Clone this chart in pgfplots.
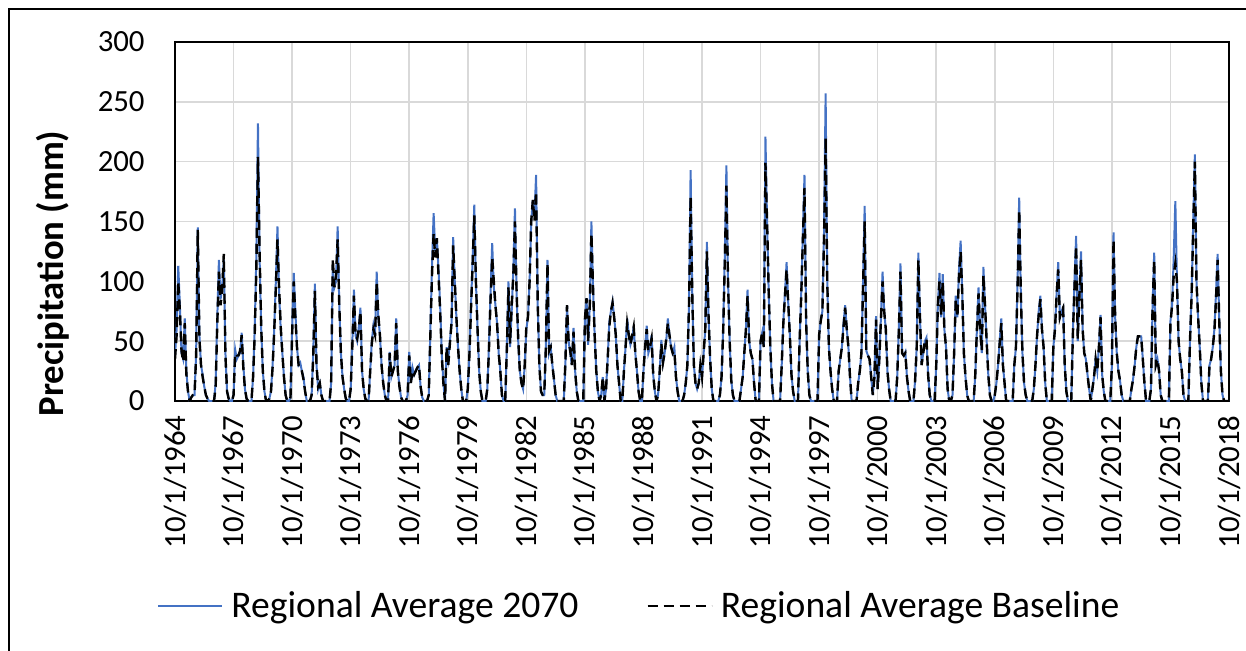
\documentclass[border=0pt]{standalone}
\usepackage{fontspec}
\setmainfont{Carlito}
\usepackage{pgfplots}
\usepackage{pgfplotstable}
\pgfplotsset{compat=1.18}
\definecolor{blueA}{RGB}{68,114,196}
\definecolor{gridgray}{RGB}{217,217,217}
% monthly values, water years Oct 1964 ... Sep 2018; a = 2070, b = baseline
\pgfplotstableread[row sep=\\]{
a b\\
38 35\\60 55\\113 100\\80 75\\40 42\\35 33\\69 65\\25 22\\8 8\\0 0\\3 3\\5 5\\
5 5\\40 38\\145 143\\55 52\\30 30\\22 20\\12 12\\5 5\\2 2\\0 0\\0 0\\0 0\\
0 0\\15 12\\70 65\\118 108\\85 80\\95 92\\118 123\\40 38\\8 8\\2 2\\0 0\\0 0\\
5 5\\43 40\\35 38\\38 38\\40 42\\57 55\\30 28\\10 10\\2 2\\0 0\\0 0\\0 0\\
20 20\\60 55\\120 110\\232 204\\120 125\\60 62\\25 25\\8 8\\0 0\\0 0\\2 2\\8 8\\
30 28\\60 58\\100 95\\146 135\\90 95\\60 62\\40 40\\20 20\\5 5\\0 0\\0 0\\3 3\\
60 55\\107 100\\75 70\\45 45\\30 30\\32 30\\25 25\\20 18\\8 8\\0 0\\0 0\\0 0\\
5 5\\40 38\\98 92\\30 30\\10 12\\15 15\\5 5\\0 0\\0 0\\0 0\\0 0\\0 0\\
15 15\\110 119\\95 95\\100 105\\146 135\\80 80\\40 40\\20 20\\10 10\\2 2\\0 0\\0 0\\
10 10\\48 45\\93 88\\55 55\\50 52\\62 60\\78 75\\25 25\\10 10\\2 2\\0 0\\0 0\\
25 25\\50 48\\63 60\\55 55\\108 100\\70 72\\55 55\\30 30\\15 15\\5 5\\0 0\\0 0\\
41 40\\20 20\\25 25\\30 30\\69 65\\25 25\\12 12\\3 3\\0 0\\0 0\\0 0\\5 5\\
41 38\\15 15\\28 25\\22 22\\25 25\\28 28\\30 30\\12 12\\3 3\\0 0\\0 0\\0 0\\
5 5\\60 55\\112 105\\157 140\\125 120\\136 136\\110 105\\80 75\\40 38\\15 15\\0 0\\45 45\\
35 30\\50 48\\65 65\\137 130\\100 100\\70 70\\45 45\\25 25\\10 10\\0 0\\0 0\\0 0\\
10 10\\40 38\\80 78\\120 115\\164 155\\100 100\\60 60\\25 25\\8 8\\0 0\\0 0\\0 0\\
10 10\\45 42\\90 85\\132 120\\95 100\\80 80\\65 65\\40 40\\25 25\\5 5\\0 0\\0 0\\
45 42\\100 95\\45 48\\75 80\\110 105\\161 150\\90 92\\50 52\\25 25\\15 15\\10 10\\30 30\\
60 62\\70 70\\100 100\\150 150\\168 168\\155 150\\189 175\\80 82\\30 30\\8 8\\5 5\\5 5\\
45 45\\118 115\\40 42\\45 45\\30 30\\18 18\\5 5\\0 0\\0 0\\0 0\\0 0\\0 0\\
30 32\\80 80\\50 50\\40 42\\30 30\\61 58\\25 25\\8 8\\0 0\\0 0\\0 0\\0 0\\
68 68\\86 86\\47 50\\80 80\\150 140\\95 95\\55 55\\25 25\\8 8\\0 0\\5 5\\20 20\\
0 0\\10 10\\35 35\\66 62\\75 75\\83 82\\70 70\\55 55\\30 30\\15 15\\0 0\\0 0\\
25 25\\45 45\\69 65\\55 55\\47 47\\52 55\\62 62\\40 40\\25 25\\8 8\\0 0\\0 0\\
25 25\\45 45\\63 60\\40 42\\45 45\\55 52\\22 22\\8 8\\0 0\\5 5\\25 25\\51 48\\
32 32\\40 40\\50 52\\69 65\\55 55\\45 45\\40 40\\45 42\\20 20\\8 8\\0 0\\0 0\\
0 0\\5 5\\15 15\\30 30\\80 80\\193 171\\90 90\\30 30\\15 15\\10 10\\15 15\\30 30\\
20 20\\40 40\\60 60\\133 125\\70 72\\35 35\\10 10\\0 0\\0 0\\0 0\\0 0\\5 5\\
20 20\\60 58\\120 115\\197 180\\100 100\\50 50\\17 17\\5 5\\0 0\\0 0\\0 0\\0 0\\
10 10\\20 20\\40 40\\60 60\\93 88\\50 50\\40 40\\35 35\\15 15\\0 0\\0 0\\0 0\\
50 50\\57 57\\45 45\\221 199\\150 150\\90 92\\45 45\\15 15\\0 0\\0 0\\0 0\\0 0\\
0 0\\30 30\\67 65\\90 88\\116 110\\82 82\\55 55\\22 22\\8 8\\0 0\\0 0\\0 0\\
50 50\\90 88\\140 135\\189 178\\67 67\\25 25\\5 5\\0 0\\0 0\\0 0\\0 0\\0 0\\
55 55\\67 67\\75 75\\140 135\\257 220\\100 100\\45 45\\25 25\\10 10\\0 0\\0 0\\0 0\\
25 25\\35 35\\45 45\\65 62\\80 78\\60 60\\45 45\\20 20\\0 0\\0 0\\0 0\\0 0\\
15 15\\25 25\\40 40\\100 95\\163 150\\42 42\\38 38\\35 35\\20 20\\5 5\\20 20\\71 68\\
10 10\\35 35\\70 68\\108 100\\75 75\\60 60\\25 25\\10 10\\0 0\\0 0\\0 0\\0 0\\
20 20\\60 58\\115 108\\40 40\\38 38\\41 40\\20 20\\8 8\\0 0\\0 0\\0 0\\17 17\\
45 45\\124 118\\70 70\\30 30\\40 40\\50 50\\53 52\\22 22\\5 5\\0 0\\0 0\\0 0\\
30 30\\80 80\\107 100\\70 72\\106 100\\60 60\\45 45\\10 10\\0 0\\0 0\\5 5\\40 40\\
88 85\\70 70\\110 105\\134 125\\90 90\\40 40\\20 20\\5 5\\0 0\\0 0\\0 0\\0 0\\
22 22\\60 60\\95 90\\60 60\\40 42\\112 105\\80 80\\50 50\\22 22\\5 5\\0 0\\0 0\\
5 5\\15 15\\30 30\\50 48\\69 65\\30 30\\15 15\\0 0\\0 0\\0 0\\0 0\\0 0\\
30 30\\45 45\\100 95\\170 160\\90 90\\40 40\\15 15\\5 5\\0 0\\0 0\\0 0\\0 0\\
10 10\\30 30\\55 55\\75 72\\88 85\\60 60\\45 45\\15 15\\0 0\\0 0\\0 0\\0 0\\
45 45\\60 60\\90 88\\116 110\\70 70\\75 75\\78 78\\30 30\\8 8\\0 0\\0 0\\0 0\\
57 55\\100 95\\138 130\\50 52\\90 88\\125 118\\60 60\\40 40\\35 35\\22 22\\10 10\\0 0\\
10 10\\20 20\\35 35\\25 25\\45 45\\72 70\\22 22\\8 8\\0 0\\0 0\\0 0\\0 0\\
30 30\\141 135\\70 70\\40 40\\25 25\\17 17\\5 5\\0 0\\0 0\\0 0\\0 0\\0 0\\
10 10\\18 18\\30 30\\45 45\\54 54\\54 54\\54 54\\35 35\\15 15\\0 0\\0 0\\0 0\\
10 10\\80 78\\124 118\\30 30\\35 35\\25 25\\5 5\\0 0\\0 0\\0 0\\0 0\\0 0\\
67 65\\80 80\\120 105\\167 115\\100 100\\50 50\\35 35\\25 25\\5 5\\0 0\\0 0\\0 0\\
50 50\\90 88\\150 145\\206 200\\100 100\\70 70\\45 45\\15 15\\0 0\\0 0\\0 0\\0 0\\
30 30\\35 35\\45 45\\60 58\\90 85\\123 118\\67 67\\25 25\\5 5\\0 0\\0 0\\0 0\\
0 0\\
}\data

\begin{document}
\begin{tikzpicture}
\begin{axis}[
  scale only axis,
  width=527pt, height=179.5pt,
  xmin=0, xmax=648, ymin=0, ymax=300,
  xtick={0,36,...,648},
  xticklabels={10/1/1964,10/1/1967,10/1/1970,10/1/1973,10/1/1976,10/1/1979,10/1/1982,10/1/1985,10/1/1988,10/1/1991,10/1/1994,10/1/1997,10/1/2000,10/1/2003,10/1/2006,10/1/2009,10/1/2012,10/1/2015,10/1/2018},
  ytick={0,50,...,300},
  grid=major,
  major grid style={gridgray, line width=0.75pt},
  axis line style={black, line width=1pt},
  major tick length=0pt,
  /pgf/number format/assume math mode=true,
  tick label style={font=\fontsize{15.4}{18}\selectfont, text=black},
  y tick label style={inner sep=0pt, xshift=-15pt},
  x tick label style={yshift=-7pt, rotate=90, anchor=east, inner sep=0pt},
  ylabel={\textbf{Precipitation (mm)}},
  every axis y label/.style={at={(axis description cs:0,0)}, xshift=-61.25pt, yshift=63.75pt, rotate=90, anchor=center, font=\fontsize{18.35}{20}\selectfont},
  legend style={at={(axis description cs:0,0)}, anchor=west, xshift=-9pt, yshift=-102.5pt, draw=none, fill=none, inner sep=0pt, font=\fontsize{18.8}{21}\selectfont, /tikz/every even column/.append style={column sep=32pt}},
  legend columns=2,
  legend cell align=left,
  legend image code/.code={\draw[#1] (0pt,0pt) -- (32pt,0pt); \path (34pt,0pt);},
]
\addplot[blueA, line width=1pt] table[x expr=\coordindex, y=a] {\data};
\addlegendentry{Regional Average 2070}
\addplot[black, line width=1.2pt, dash pattern=on 5pt off 3pt] table[x expr=\coordindex, y=b] {\data};
\addlegendentry{Regional Average Baseline}
\end{axis}
\draw[line width=1pt] (-83pt,-130pt) -- (-83pt,196pt) -- (540pt,196pt);
\pgfresetboundingbox
\useasboundingbox (-87.5pt,-124.5pt) rectangle (535.5pt,200.5pt);
\end{tikzpicture}
\end{document}
